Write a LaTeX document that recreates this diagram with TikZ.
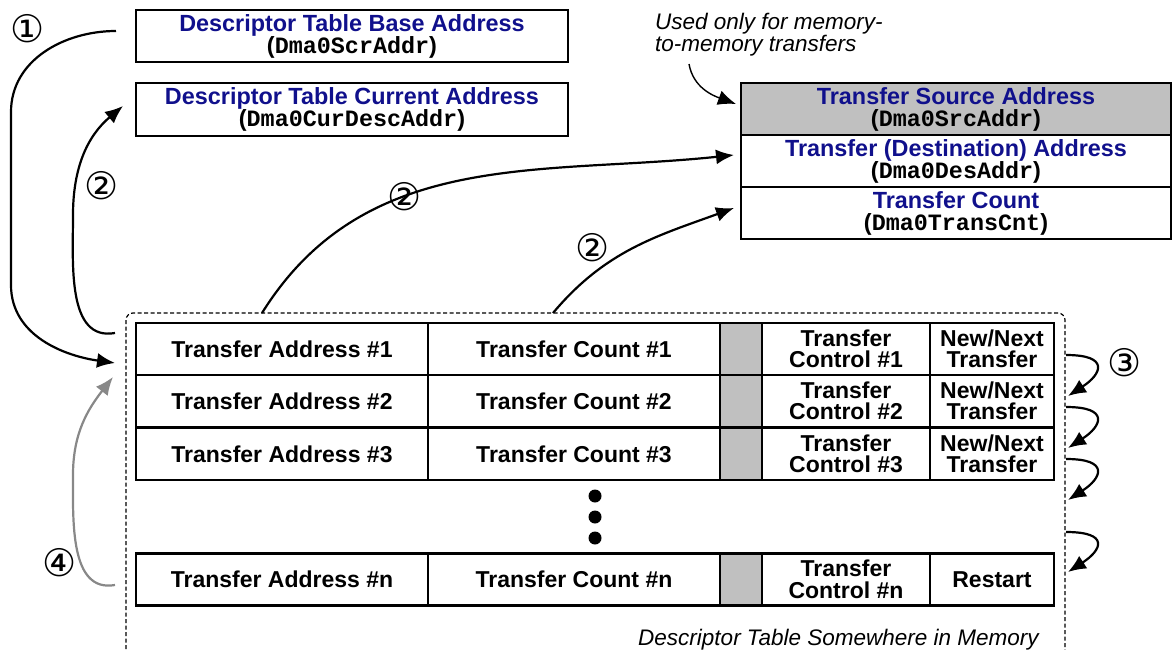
\documentclass[tikz,border=0pt]{standalone}
\usepackage{fontspec}
\setmainfont{Liberation Sans}
\newfontfamily\monof{Liberation Mono}
\newfontfamily\circf{DejaVu Sans}
\usetikzlibrary{arrows.meta}
\definecolor{navy}{RGB}{16,16,140}
\definecolor{cellgray}{RGB}{192,192,192}
\definecolor{arrgray}{RGB}{136,136,136}
\tikzset{
 regbox/.style={draw=black, line width=2.4pt, minimum width=432pt, minimum height=52pt, inner sep=0pt, align=center, font=\fontsize{23.4}{22}\selectfont\bfseries},
 regrow/.style={regbox, minimum width=430pt},
 cell/.style={draw=black, line width=2.4pt, minimum height=52pt, inner sep=0pt, align=center, font=\fontsize{23}{21.5}\selectfont\bfseries},
 wide/.style={cell, minimum width=292pt},
 ctrl/.style={cell, minimum width=168pt},
 nxt/.style={cell, minimum width=124pt},
 gcell/.style={cell, minimum width=42pt, fill=cellgray},
 conn/.style={line width=2.2pt, -{Latex[length=18pt,width=15pt]}},
 gconn/.style={conn, draw=arrgray, -{Latex[length=18pt,width=15pt,color=arrgray]}},
 thinconn/.style={line width=1.4pt, -{Latex[length=18pt,width=15pt]}},
 numlabel/.style={font=\circf\fontsize{38}{38}\selectfont, inner sep=0pt},
 note/.style={font=\fontsize{22.5}{22}\selectfont\itshape, align=left, inner sep=0pt},
 dotnode/.style={circle, fill=black, minimum size=13pt, inner sep=0pt},
}
\newcommand{\mono}[1]{{\monof\bfseries #1}}
\begin{document}
\begin{tikzpicture}[x=1pt,y=-1pt]
\useasboundingbox (0,0) rectangle (1172,650);

% top-left registers
\node[regbox] (base) at (352,36) {\textcolor{navy}{Descriptor Table Base Address}\\(\mono{Dma0ScrAddr})};
\node[regbox, minimum height=53pt] (cur) at (352,109.5) {\textcolor{navy}{Descriptor Table Current Address}\\(\mono{Dma0CurDescAddr})};

% right registers
\node[regrow, fill=cellgray] (src) at (956,109) {\textcolor{navy}{Transfer Source Address}\\(\mono{Dma0SrcAddr})};
\node[regrow] (des) at (956,161) {\textcolor{navy}{Transfer (Destination) Address}\\(\mono{Dma0DesAddr})};
\node[regrow] (cnt) at (956,213) {\textcolor{navy}{Transfer Count}\\(\mono{Dma0TransCnt})};

\node[note, anchor=north west] (usednote) at (655,13) {Used only for memory-\\to-memory transfers};

% descriptor table frame
\draw[dash pattern=on 4pt off 2.5pt, line width=1.2pt, rounded corners=7pt] (126,662) -- (126,313) -- (1065,313) -- (1065,662);

% table rows
\foreach \r/\y/\n in {1/349/1, 2/401/2, 3/454/3} {
  \node[wide] (a\r) at (282,\y) {Transfer Address \#\n};
  \node[wide] (c\r) at (574,\y) {Transfer Count \#\n};
  \node[gcell] (g\r) at (741,\y) {};
  \node[ctrl] (t\r) at (846,\y) {Transfer\\Control \#\n};
  \node[nxt] (x\r) at (992,\y) {New/Next\\Transfer};
}
\node[wide] (an) at (282,579.5) {Transfer Address \#n};
\node[wide] (cn) at (574,579.5) {Transfer Count \#n};
\node[gcell] (gn) at (741,579.5) {};
\node[ctrl] (tn) at (846,579.5) {Transfer\\Control \#n};
\node[nxt] (xn) at (992,579.5) {Restart};

\node[dotnode] (d1) at (595,496) {};
\node[dotnode] (d2) at (595,517) {};
\node[dotnode] (d3) at (595,538) {};

\node[note, anchor=base east] (memnote) at (1039,645) {Descriptor Table Somewhere in Memory};

% connector end coordinates
\coordinate (p1s) at (116,31);
\coordinate (p1e) at (115,363);
\coordinate (p2as) at (115,333);
\coordinate (p2ae) at (123,106);
\coordinate (p2bs) at (262,313);
\coordinate (p2be) at (734,155);
\coordinate (p2cs) at (553,313);
\coordinate (p2ce) at (734,208);
\coordinate (nts) at (689,64);
\coordinate (nte) at (736,104);
\coordinate (p4s) at (115,585);
\coordinate (p4e) at (113,377);

% (1)
\draw[conn] (p1s) to[out=180,in=90] (11,112) -- (11,285) to[out=-90,in=172] (p1e);
% (2)
\draw[conn] (p2as) to[out=190,in=-90] (73,215) to[out=90,in=-140] (p2ae);
\draw[conn] (p2bs) to[out=58,in=186] (p2be);
\draw[conn] (p2cs) to[out=50,in=200] (p2ce);
% note arrow
\draw[thinconn] (nts) to[out=-80,in=160] (nte);
% (4)
\draw[gconn] (p4s) to[out=190,in=-90] (73,475) to[out=90,in=-128] (p4e);

% (3) chain loops
\foreach \k/\s/\t in {1/355/396, 2/407/448, 3/459/500, 4/532/572} {
  \coordinate (l\k s) at (1066,\s);
  \coordinate (l\k e) at (1068,\t);
  \draw[conn] (l\k s) .. controls (1110,\s) and (1102,\t-22) .. (l\k e);
}

% circled step numbers
\node[numlabel] (n1) at (28,29) {①};
\node[numlabel] (n2a) at (102,186) {②};
\node[numlabel] (n2b) at (405,197) {②};
\node[numlabel] (n2c) at (593,248) {②};
\node[numlabel] (n3) at (1125,363) {③};
\node[numlabel] (n4) at (60,563) {④};
\end{tikzpicture}
\end{document}
